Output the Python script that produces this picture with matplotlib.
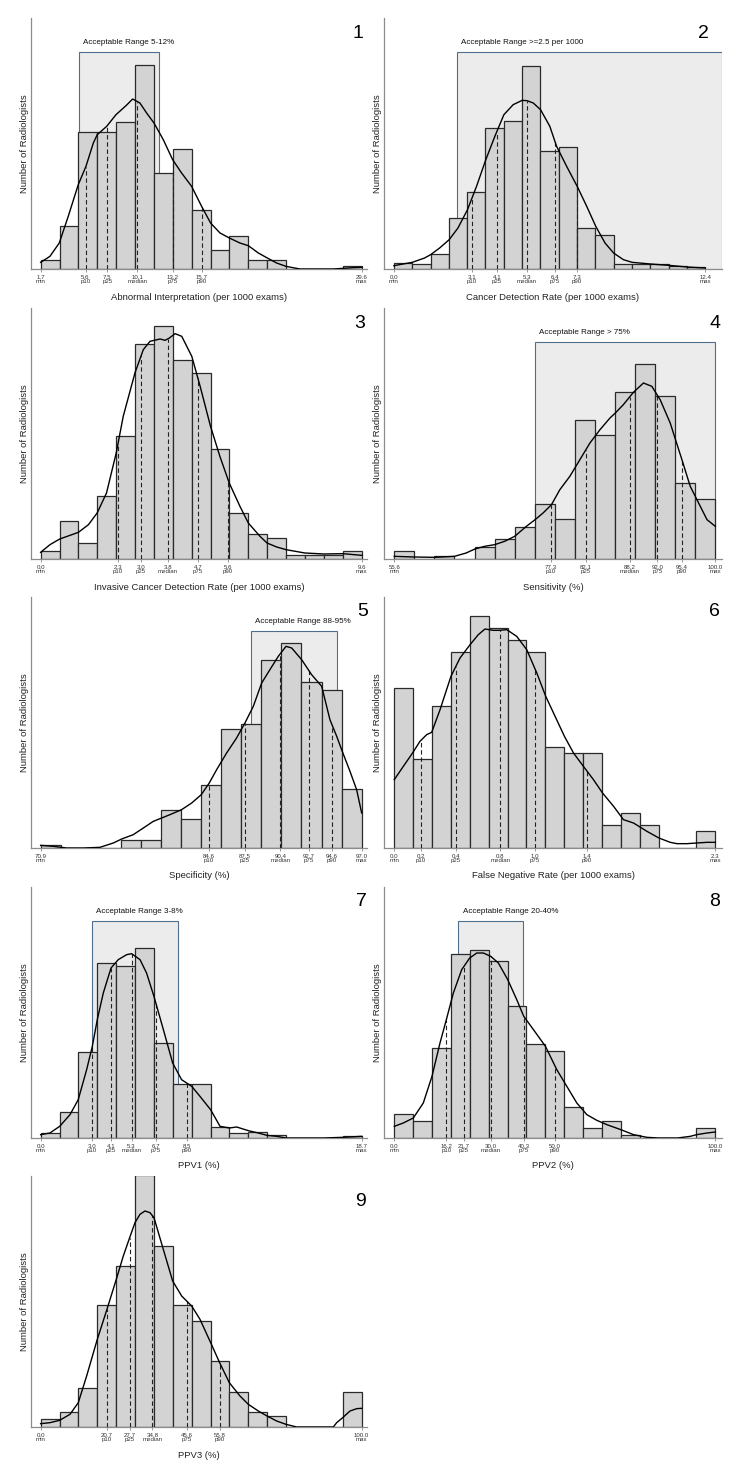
import matplotlib.pyplot as plt
import numpy as np
from matplotlib.patches import Rectangle

plt.rcParams["font.family"] = ["Liberation Sans", "DejaVu Sans"]

pct_names = ["p10", "p25", "median", "p75", "p90"]

# 1 - abnormal interpretation
abn_range = [1.7, 29.6]
abn_counts = [28, 128, 410, 410, 440, 611, 289, 359, 178, 58, 98, 28, 28, 0, 0, 0, 8]
abn_pct = [5.6, 7.5, 10.1, 13.2, 15.7]
abn_kde_x = [1.70, 2.51, 3.32, 4.10, 4.97, 5.64, 6.28, 6.62, 7.44, 8.25, 9.12, 9.70, 10.33,
             10.91, 11.55, 12.36, 13.17, 13.95, 14.82, 15.69, 16.47, 17.29, 18.10, 19.02,
             19.75, 20.62, 21.40, 22.21, 23.02, 24.24, 25.69, 27.13, 28.00, 28.87, 29.60]
abn_kde_y = [20, 38, 78, 158, 253, 308, 378, 403, 428, 463, 490, 510, 498, 468, 438, 388, 328,
             288, 248, 188, 138, 108, 93, 78, 70, 48, 33, 18, 8, 0, 0, 0, 2, 4, 5]

# 2 - cancer detection rate
cdr_range = [0.0, 12.4]
cdr_counts = [18, 16, 45, 153, 230, 423, 443, 608, 355, 366, 123, 103, 16, 16, 15, 8, 6]
cdr_pct = [3.1, 4.1, 5.3, 6.4, 7.3]
cdr_kde_x = [0.00, 0.73, 1.22, 1.46, 1.82, 2.20, 2.55, 2.93, 3.29, 3.66, 4.02, 4.38, 4.75,
             5.11, 5.30, 5.55, 5.84, 6.21, 6.48, 6.88, 7.30, 7.68, 8.04, 8.41, 8.75, 9.14,
             9.49, 10.22, 10.95, 11.68, 12.40]
cdr_kde_y = [10, 20, 33, 43, 63, 88, 123, 178, 248, 328, 398, 463, 493, 506, 505, 498, 478,
             428, 368, 308, 248, 188, 128, 78, 48, 28, 20, 15, 11, 6, 3]

# 3 - invasive cancer detection rate
inv_range = [0.0, 9.6]
inv_counts = [23, 114, 49, 189, 368, 646, 698, 596, 558, 330, 138, 75, 63, 12, 12, 12, 25]
inv_pct = [2.3, 3.0, 3.8, 4.7, 5.6]
inv_kde_x = [0.00, 0.28, 0.57, 1.13, 1.43, 1.69, 1.97, 2.26, 2.47, 2.82, 3.07, 3.27, 3.57,
             3.72, 3.85, 4.02, 4.22, 4.52, 4.77, 5.08, 5.36, 5.64, 5.96, 6.21, 6.56, 6.77,
             7.06, 7.34, 7.90, 8.47, 9.03, 9.60]
inv_kde_y = [20, 43, 60, 80, 103, 138, 198, 318, 428, 558, 628, 653, 660, 656, 663, 676, 668,
             608, 518, 398, 308, 228, 158, 108, 68, 48, 36, 28, 18, 15, 16, 11]

# 4 - sensitivity
sens_range = [55.6, 100.0]
sens_counts = [23, 0, 10, 0, 35, 60, 95, 166, 119, 418, 371, 501, 586, 490, 227, 179]
sens_pct = [77.3, 82.1, 88.2, 92.0, 95.4]
sens_kde_x = [55.60, 58.33, 61.20, 63.93, 65.54, 66.75, 68.09, 69.48, 70.86, 72.25, 73.87,
              75.07, 76.18, 77.34, 78.50, 79.88, 81.27, 82.66, 84.05, 85.43, 86.17, 87.28,
              88.67, 90.06, 91.22, 92.37, 93.76, 95.38, 96.53, 97.92, 98.85, 100.00]
sens_kde_y = [8, 6, 5, 8, 18, 30, 38, 43, 53, 68, 98, 118, 138, 163, 208, 248, 298, 348, 388,
              423, 438, 463, 500, 528, 518, 478, 408, 298, 218, 158, 118, 98]

# 5 - specificity
spec_range = [70.9, 97.0]
spec_counts = [10, 0, 0, 0, 24, 24, 114, 88, 190, 357, 371, 564, 616, 499, 474, 177]
spec_pct = [84.6, 87.5, 90.4, 92.7, 94.6]
spec_kde_x = [70.90, 71.93, 73.01, 74.37, 75.72, 76.81, 77.49, 78.43, 79.25, 80.06, 80.74,
              81.41, 82.36, 83.18, 83.96, 84.61, 85.21, 86.02, 86.83, 87.51, 88.19, 88.87,
              89.54, 90.22, 90.85, 91.31, 92.12, 92.93, 93.75, 94.42, 94.97, 95.37, 96.05,
              96.59, 97.00]
spec_kde_y = [8, 5, 0, 0, 2, 15, 27, 40, 60, 80, 90, 100, 115, 135, 160, 195, 235, 285, 330,
              375, 425, 495, 535, 575, 605, 600, 565, 520, 485, 385, 335, 295, 230, 175, 105]

# 6 - false negative rate
fnr_range = [0.0, 2.3]
fnr_counts = [480, 266, 427, 588, 697, 660, 623, 588, 302, 284, 284, 69, 105, 69, 0, 0, 52]
fnr_pct = [0.19, 0.44, 0.76, 1.01, 1.38]
fnr_kde_x = [0.000, 0.065, 0.131, 0.184, 0.232, 0.268, 0.328, 0.406, 0.471, 0.543, 0.602,
             0.650, 0.710, 0.748, 0.806, 0.877, 0.949, 1.021, 1.085, 1.152, 1.219, 1.284,
             1.355, 1.427, 1.492, 1.571, 1.642, 1.714, 1.810, 1.896, 1.977, 2.025, 2.097,
             2.166, 2.240, 2.300]
fnr_kde_y = [205, 245, 285, 320, 340, 347, 415, 515, 570, 610, 640, 657, 653, 653, 655, 635,
             595, 525, 455, 395, 335, 285, 245, 205, 165, 125, 85, 75, 50, 30, 17, 13, 13,
             15, 17, 17]

# 7 - PPV1
ppv1_range = [0.0, 18.7]
ppv1_counts = [15, 77, 258, 525, 515, 569, 284, 162, 162, 33, 15, 17, 8, 0, 0, 0, 7]
ppv1_pct = [3.0, 4.1, 5.3, 6.7, 8.5]
ppv1_kde_x = [0.00, 0.54, 1.11, 1.71, 2.19, 2.68, 3.01, 3.30, 3.65, 4.10, 4.52, 5.01, 5.30,
              5.79, 6.17, 6.60, 7.15, 7.69, 8.21, 8.80, 9.28, 9.90, 10.45, 10.99, 11.42,
              12.10, 12.68, 13.18, 13.75, 14.29, 15.38, 16.49, 17.59, 18.70]
ppv1_kde_y = [10, 15, 35, 70, 115, 205, 275, 355, 435, 510, 535, 550, 553, 535, 495, 425,
              325, 225, 175, 155, 125, 85, 35, 30, 33, 22, 15, 8, 5, 0, 0, 0, 2, 5]

# 8 - PPV2
ppv2_range = [0.0, 100.0]
ppv2_counts = [72, 50, 270, 552, 564, 532, 397, 282, 260, 93, 30, 50, 8, 0, 0, 0, 30]
ppv2_pct = [16.2, 21.7, 30.0, 40.3, 50.0]
ppv2_kde_x = [0.00, 2.81, 5.93, 9.04, 11.75, 14.24, 16.22, 18.40, 21.00, 23.49, 25.68,
              27.75, 30.04, 32.43, 35.34, 38.15, 40.33, 43.35, 47.09, 50.62, 53.74, 56.86,
              59.98, 63.10, 66.22, 70.58, 74.53, 78.69, 82.33, 88.25, 92.20, 94.18, 97.40,
              100.00]
ppv2_kde_y = [35, 45, 60, 105, 185, 285, 355, 435, 505, 540, 555, 555, 545, 525, 475, 415,
              365, 325, 275, 205, 155, 105, 70, 53, 40, 25, 10, 2, 0, 0, 5, 10, 15, 18]

# 9 - PPV3
ppv3_range = [0.0, 100.0]
ppv3_counts = [23, 46, 117, 365, 484, 755, 542, 365, 317, 199, 105, 46, 34, 0, 0, 0, 105]
ppv3_pct = [20.7, 27.7, 34.8, 45.6, 55.8]
ppv3_kde_x = [0.00, 2.91, 5.92, 9.14, 11.73, 14.33, 17.65, 20.66, 23.57, 25.75, 27.73, 29.39,
              30.94, 32.50, 34.06, 35.31, 38.21, 41.12, 43.93, 47.04, 49.64, 52.96, 55.76,
              58.77, 62.10, 64.69, 67.81, 70.51, 73.52, 76.43, 79.75, 82.24, 91.17, 92.21,
              94.08, 96.37, 98.44, 100.00]
ppv3_kde_y = [10, 13, 20, 38, 73, 153, 263, 353, 443, 513, 568, 613, 638, 648, 643, 628, 533,
              438, 393, 363, 323, 253, 193, 133, 93, 68, 48, 33, 18, 8, 0, 0, 0, 13, 28, 48,
              55, 56]

x_labels = [
    "Abnormal Interpretation (per 1000 exams)",
    "Cancer Detection Rate (per 1000 exams)",
    "Invasive Cancer Detection Rate (per 1000 exams)",
    "Sensitivity (%)",
    "Specificity (%)",
    "False Negative Rate (per 1000 exams)",
    "PPV1 (%)",
    "PPV2 (%)",
    "PPV3 (%)",
]
# acceptable ranges (None = no box)
acc_ranges = [
    (5, 12, "Acceptable Range 5-12%"),
    (2.5, 13.07, "Acceptable Range >=2.5 per 1000"),
    None,
    (75, 100, "Acceptable Range > 75%"),
    (88, 95, "Acceptable Range 88-95%"),
    None,
    (3, 8, "Acceptable Range 3-8%"),
    (20, 40, "Acceptable Range 20-40%"),
    None,
]

panels = [
    (abn_range, abn_counts, abn_pct, abn_kde_x, abn_kde_y),
    (cdr_range, cdr_counts, cdr_pct, cdr_kde_x, cdr_kde_y),
    (inv_range, inv_counts, inv_pct, inv_kde_x, inv_kde_y),
    (sens_range, sens_counts, sens_pct, sens_kde_x, sens_kde_y),
    (spec_range, spec_counts, spec_pct, spec_kde_x, spec_kde_y),
    (fnr_range, fnr_counts, fnr_pct, fnr_kde_x, fnr_kde_y),
    (ppv1_range, ppv1_counts, ppv1_pct, ppv1_kde_x, ppv1_kde_y),
    (ppv2_range, ppv2_counts, ppv2_pct, ppv2_kde_x, ppv2_kde_y),
    (ppv3_range, ppv3_counts, ppv3_pct, ppv3_kde_x, ppv3_kde_y),
]

# layout (pixels)
W, H = 740, 1480
col_x = [(31, 336), (384, 338)]
row_top = [18, 308, 597, 887, 1176]
ax_h = 251
pad_l = [0.030, 0.032]
pad_r = [0.0166, 0.0208]
num_pos = [(0.973, 0.94), (0.944, 0.94), (0.979, 0.94), (0.979, 0.94), (0.988, 0.943),
           (0.979, 0.943), (0.984, 0.943), (0.979, 0.943), (0.982, 0.90)]
Y_TOP = 753
BOX_TOP = 652
BOX_TXT = 681

fig = plt.figure(figsize=(W / 100, H / 100), dpi=100)

for i, (rng, counts, pct, kx, ky) in enumerate(panels):
    col, row = i % 2, i // 2
    x0, w = col_x[col]
    ax = fig.add_axes([x0 / W, 1 - (row_top[row] + ax_h) / H, w / W, ax_h / H])

    lo, hi = rng
    r = hi - lo
    edges = np.linspace(lo, hi, len(counts) + 1)

    right = hi + pad_r[col] * r
    box = acc_ranges[i]
    if box is not None:
        blo, bhi, btxt = box
        ax.add_patch(Rectangle((blo, 0), bhi - blo, BOX_TOP, facecolor="#ececec",
                               edgecolor="#4e6e8e", linewidth=0.8, zorder=1))
        ax.annotate(btxt, xy=(blo, BOX_TXT), xytext=(3, 0), textcoords="offset points",
                    ha="left", va="center", fontsize=5.8, color="#111111")
        right = max(right, bhi)

    ax.bar(edges[:-1], counts, width=np.diff(edges), align="edge", color="#d3d3d3",
           edgecolor="#2a2a2a", linewidth=0.9, zorder=2)

    for p in pct:
        ax.plot([p, p], [0, np.interp(p, kx, ky)], color="#222222", lw=0.8,
                ls=(0, (4, 2.5)), zorder=3)

    ax.plot(kx, ky, color="black", lw=1.0, zorder=4)

    ax.set_xlim(lo - pad_l[col] * r, right)
    ax.set_ylim(0, Y_TOP)

    ticks = [lo] + pct + [hi]
    names = ["min"] + pct_names + ["max"]
    ax.set_xticks(ticks)
    ax.set_xticklabels([f"{v:.1f}\n{n}" for v, n in zip(ticks, names)])
    for lbl in ax.get_xticklabels():
        lbl.set_linespacing(0.85)
    ax.tick_params(axis="x", labelsize=4.4, length=2.5, width=0.6, color="#888888",
                   labelcolor="#333333", pad=1.5)
    ax.set_yticks([])

    for s in ["top", "right"]:
        ax.spines[s].set_visible(False)
    for s in ["left", "bottom"]:
        ax.spines[s].set_color("#8c8c8c")
        ax.spines[s].set_linewidth(0.9)

    ax.set_xlabel(x_labels[i], fontsize=6.8, color="#222222")
    ax.xaxis.set_label_coords(0.5, -28 / ax_h)
    ax.xaxis.label.set_va("center")
    ax.set_ylabel("Number of Radiologists", fontsize=6.8, color="#222222")
    ax.yaxis.set_label_coords(-6.5 / w, 0.5)
    ax.yaxis.label.set_va("center")

    nx, ny = num_pos[i]
    ax.text(nx, ny, str(i + 1), transform=ax.transAxes, fontsize=14,
            ha="center", va="center")

fig.savefig("out.png", dpi=100)
